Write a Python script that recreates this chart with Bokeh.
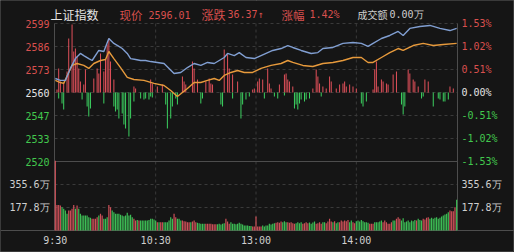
from bokeh.plotting import figure
from bokeh.models import Range1d, ColumnDataSource
from bokeh.core.properties import value
from bokeh.embed import file_html
from bokeh.resources import INLINE

# ---------------- data ----------------
index_name = "上证指数"
prev_close = 2559.64
last_price = "2596.01"
change = "36.37↑"
change_pct = "1.42%"
turnover = "0.00万"

# minutes since 9:30 (0..240, lunch removed)
price_t = [0, 3, 6, 9, 12, 15, 17, 20, 22, 26, 29, 32, 35, 38, 40, 43, 45, 48, 51, 54,
           57, 61, 65, 68, 71, 75, 79, 83, 87, 91, 95, 98, 101, 103, 107, 110, 114, 119,
           123, 127, 130, 135, 139, 142, 147, 153, 157, 160, 166, 172, 178, 183, 187, 190,
           195, 200, 205, 208, 212, 218, 224, 230, 236, 240]
price_v = [2567.6, 2566.5, 2566.5, 2573.3, 2578.9, 2581.8, 2580.6, 2578.9, 2577.8, 2583.5,
           2582.9, 2590.3, 2587.5, 2585.8, 2584.6, 2581.8, 2578.9, 2578.4, 2577.8, 2577.8,
           2577.2, 2576.7, 2576.1, 2573.3, 2570.4, 2571.0, 2573.8, 2576.1, 2575.0, 2576.7,
           2576.1, 2577.8, 2579.5, 2581.8, 2580.6, 2582.3, 2579.5, 2578.9, 2580.6, 2582.3,
           2583.5, 2584.6, 2586.3, 2585.2, 2583.5, 2581.8, 2582.3, 2584.6, 2585.2, 2587.5,
           2588.0, 2587.5, 2585.8, 2587.5, 2590.3, 2592.0, 2594.3, 2592.0, 2596.0, 2597.1,
           2597.7, 2596.0, 2594.8, 2596.0]

avg_t = [0, 3, 5, 8, 10, 13, 17, 20, 23, 27, 30, 32, 35, 39, 43, 47, 53, 59, 65, 69,
         73, 76, 79, 83, 87, 91, 95, 98, 101, 105, 109, 113, 118, 123, 129, 135, 139, 142,
         148, 154, 160, 166, 172, 178, 183, 187, 190, 195, 200, 205, 208, 214, 220, 226,
         232, 240]
avg_v = [2566.5, 2565.3, 2564.8, 2571.0, 2575.0, 2576.1, 2575.0, 2573.3, 2576.1, 2577.8,
         2578.4, 2582.9, 2578.9, 2573.8, 2568.2, 2567.0, 2566.5, 2564.8, 2563.6, 2560.8,
         2557.4, 2559.6, 2561.9, 2565.3, 2565.3, 2566.5, 2567.6, 2566.5, 2569.3, 2571.0,
         2572.1, 2571.0, 2571.0, 2573.3, 2575.0, 2576.1, 2577.8, 2576.7, 2575.0, 2574.4,
         2576.1, 2576.7, 2577.8, 2579.5, 2579.5, 2576.7, 2576.7, 2579.5, 2582.3, 2584.6,
         2583.5, 2586.3, 2587.5, 2586.3, 2586.9, 2587.5]

# buying / selling strength bars (arbitrary units)
buy_t = [1, 2, 3, 5, 7, 8, 10, 11, 12, 13, 14, 15, 17, 18, 23, 25, 26, 27, 29, 30,
         31, 32, 33, 35, 47, 48, 57, 58, 61, 64, 76, 77, 78, 82, 83, 85, 90, 92, 93, 94,
         101, 103, 104, 106, 109, 118, 119, 121, 122, 124, 127, 128, 129, 134, 137, 138,
         139, 140, 142, 154, 156, 157, 158, 160, 162, 164, 165, 168, 170, 172, 173, 174,
         176, 178, 180, 190, 191, 192, 193, 195, 196, 198, 199, 202, 204, 211, 212, 214,
         215, 217, 221, 223, 236, 238]
buy_v = [3, 24, 11, 9, 21, 54, 68, 41, 44, 36, 24, 11, 8, 23, 14, 24, 19, 39, 21, 33,
         48, 54, 31, 13, 6, 4, 13, 9, 6, 8, 16, 11, 8, 31, 24, 13, 11, 14, 9, 8,
         43, 38, 24, 18, 11, 3, 4, 11, 14, 13, 24, 9, 4, 8, 18, 19,
         13, 11, 6, 4, 23, 16, 9, 6, 4, 16, 11, 4, 8, 9, 11, 6,
         8, 6, 4, 3, 23, 31, 6, 13, 11, 9, 8, 18, 21, 23, 19, 13,
         11, 6, 13, 11, 6, 4]
sell_t = [2, 4, 5, 16, 19, 20, 21, 29, 35, 36, 37, 38, 40, 41, 42, 44, 45, 47, 51, 53,
          54, 56, 57, 58, 66, 67, 69, 70, 72, 73, 87, 88, 99, 100, 106, 111, 112, 114, 116,
          125, 131, 133, 137, 143, 144, 145, 146, 147, 149, 150, 152, 159, 183, 184, 186,
          207, 208, 209, 219, 220, 226, 229, 230, 232, 233, 235]
sell_v = [6, 11, 17, 7, 14, 24, 16, 11, 14, 19, 17, 26, 21, 32, 36, 44, 26, 9, 6, 7,
          6, 7, 4, 5, 12, 36, 26, 14, 6, 12, 11, 6, 12, 14, 6, 26, 12, 7, 4,
          6, 4, 6, 3, 16, 12, 17, 11, 7, 9, 7, 6, 4, 11, 14, 9,
          12, 22, 14, 6, 4, 14, 6, 7, 9, 9, 7]

# volume (万), minutes 0..120 and 121..240, R = up bar, G = down bar
vol_am = [540, 198, 198, 193, 180, 168, 155, 129, 155, 155,
          168, 198, 168, 193, 168, 129, 116, 116, 116, 116,
          103, 98, 90, 90, 90, 103, 116, 129, 116, 90,
          90, 103, 198, 180, 155, 142, 129, 129, 129, 121,
          116, 111, 116, 137, 116, 121, 103, 90, 77, 82,
          77, 77, 77, 77, 77, 77, 82, 90, 90, 85,
          77, 64, 64, 64, 64, 64, 64, 64, 77, 103,
          90, 129, 103, 90, 90, 77, 77, 72, 70, 64,
          64, 64, 70, 77, 64, 59, 57, 52, 52, 52,
          52, 52, 52, 52, 49, 49, 49, 49, 52, 46,
          52, 57, 90, 70, 52, 64, 52, 52, 49, 52,
          59, 52, 46, 39, 39, 39, 34, 34, 31, 31,
          108]
vol_am_dir = ("RRRRGGGGRR" "RRGRGGGGGG" "GGRRRRGRRG" "GGRRGGGGGG" "GGGGGGGRRG"
              "RGGGGGGGGG" "GRGRRGGGGG" "GRRGGGRRRR" "RGRRRGGGGG" "RRRRRRRGGG"
              "GGRRRGGGGG" "GGGGGGGGRR" "R")
vol_pm = [31, 31, 31, 39, 31, 39, 39, 52, 46, 52,
          57, 59, 64, 59, 70, 64, 72, 64, 64, 59,
          64, 57, 52, 57, 64, 57, 64, 52, 57, 64,
          57, 62, 52, 62, 70, 52, 57, 64, 52, 64,
          64, 57, 70, 90, 70, 64, 72, 57, 64, 64,
          77, 70, 77, 72, 82, 64, 77, 64, 57, 72,
          77, 70, 82, 72, 64, 64, 59, 52, 52, 52, 64,
          64, 64, 70, 77, 64, 77, 64, 52, 52, 64,
          77, 77, 90, 103, 90, 77, 95, 64, 70, 77,
          64, 77, 72, 82, 77, 90, 82, 77, 90, 85,
          98, 103, 90, 98, 90, 98, 103, 90, 98, 108,
          116, 124, 129, 142, 155, 149, 149, 180, 237]
vol_pm_dir = ("RRRGGGGGGG" "GRRRRGGGRR" "RRRGGGGRRR" "RGGGGRRRRG" "GRRRRGRGGR"
              "RRRRRGGRRG" "GGGGGGGRRRG" "GGGGRRRRRR" "GGRRRGGGGG" "GGGGRGGGRR"
              "RRGGGGGGGG" "GGGGRRRRG")

price_tick_labels = ["2599", "2586", "2573", "2560", "2547", "2533", "2520"]
pct_tick_labels = ["1.53%", "1.02%", "0.51%", "0.00%", "-0.51%", "-1.02%", "-1.53%"]
tick_steps = [3, 2, 1, 0, -1, -2, -3]
vol_ticks = [355.6, 177.8]
vol_tick_labels = ["355.6万", "177.8万"]
time_ticks = [0, 60, 120, 180]
time_labels = ["9:30", "10:30", "13:00", "14:00"]

# ---------------- style / layout ----------------
BG = "#151515"
GRID = "#3a3a3a"
FRAME = "#4d4d4d"
RED_T = "#d9504e"
GREEN_T = "#42c84e"
WHITE_T = "#e4e4e4"
GRAY_T = "#cfcfcf"
BLUE = "#819fd2"
ORANGE = "#e79a3c"
RED_B = "#e0505a"
GREEN_B = "#3cd060"
RED_V = "#cc5058"
GREEN_V = "#3dbd55"
MONO = "DejaVu Sans Mono"
CJK = "Noto Sans CJK SC"

W, H = 514, 252
FL, FR, FT, FB = 54, 457, 23, 230     # chart area edges in pixels
ROW = 23.0                              # pixels per grid row
x_lo, x_hi = -0.5, 240.5
ppm = (FR - FL) / (x_hi - x_lo)

step = prev_close * 0.0051
price_hi = prev_close + 3 * step
pw = 23.0
vol_step = vol_ticks[1]


def px_to_x(px):
    return x_lo + (px - FL) / ppm


def py_price(py):
    return price_hi - (py - FT) * step / ROW


def py_pwr(py):
    return 3 * pw - (py - FT) * pw / ROW


def py_vol(py):
    return (FB - py) * vol_step / ROW


p = figure(width=W, height=H, output_backend="svg", toolbar_location=None,
           x_range=Range1d(px_to_x(0), px_to_x(W)),
           y_range=Range1d(py_price(H), py_price(0)),
           min_border=0, x_axis_location=None, y_axis_location=None,
           background_fill_color=BG, border_fill_color=BG)
p.center = []
p.outline_line_color = "#3a3a3a"
p.extra_y_ranges = {"pwr": Range1d(py_pwr(H), py_pwr(0)),
                    "vol": Range1d(py_vol(H), py_vol(0))}

price_ticks = [prev_close + k * step for k in tick_steps]
y_top, y_sep = price_ticks[0], price_ticks[-1]

# dashed grid
p.segment(x0=x_lo, x1=x_hi, y0=price_ticks[:-1], y1=price_ticks[:-1],
          line_color=GRID, line_dash="3 3", line_width=1)
p.segment(x0=x_lo, x1=x_hi, y0=vol_ticks, y1=vol_ticks, y_range_name="vol",
          line_color=GRID, line_dash="3 3", line_width=1)
p.segment(x0=time_ticks[1:], x1=time_ticks[1:], y0=y_top, y1=py_price(FB),
          line_color=GRID, line_dash="3 3", line_width=1)
# frame lines
p.segment(x0=[x_lo, x_hi], x1=[x_lo, x_hi], y0=y_top, y1=py_price(FB),
          line_color=FRAME, line_width=1)
p.segment(x0=x_lo, x1=x_hi, y0=y_sep, y1=y_sep, line_color=FRAME, line_width=1)
p.segment(x0=px_to_x(0), x1=px_to_x(W), y0=0, y1=0, y_range_name="vol",
          line_color=FRAME, line_width=1)

# strength bars
p.vbar(x=buy_t, bottom=0, top=buy_v, width=0.6, y_range_name="pwr",
       fill_color=RED_B, line_color=None)
p.vbar(x=sell_t, bottom=0, top=[-v for v in sell_v], width=0.6, y_range_name="pwr",
       fill_color=GREEN_B, line_color=None)

# volume
vol = vol_am + vol_pm
vdir = vol_am_dir + vol_pm_dir
vt = list(range(len(vol)))
vcol = [RED_V if d == "R" else GREEN_V for d in vdir]
p.vbar(x=vt, bottom=0, top=vol, width=0.72, y_range_name="vol",
       fill_color=vcol, line_color=None)

# price lines
p.line(avg_t, avg_v, line_color=ORANGE, line_width=1.4)
p.line(price_t, price_v, line_color=BLUE, line_width=1.4)


# tick labels
def sign_color(k):
    return RED_T if k > 0 else (WHITE_T if k == 0 else GREEN_T)


cols = [sign_color(k) for k in tick_steps]
left_src = ColumnDataSource(dict(x=[px_to_x(FL - 5)] * 7, y=price_ticks,
                                 text=price_tick_labels, c=cols))
right_src = ColumnDataSource(dict(x=[px_to_x(FR + 4)] * 7, y=price_ticks,
                                  text=pct_tick_labels, c=cols))
for src, align in ((left_src, "right"), (right_src, "left")):
    p.text(x="x", y="y", text="text", source=src, text_color="c",
           text_align=value(align), text_baseline=value("middle"),
           text_font=value(MONO), text_font_size=value("10px"))
for xx, align in ((px_to_x(FL - 5), "right"), (px_to_x(FR + 4), "left")):
    p.text(x=[xx] * 2, y=vol_ticks, text=vol_tick_labels, y_range_name="vol",
           text_color=GRAY_T, text_align=value(align), text_baseline=value("middle"),
           text_font=value(MONO), text_font_size=value("10px"))

# time labels
p.text(x=time_ticks, y=[py_vol(FB + 10)] * len(time_ticks), text=time_labels,
       y_range_name="vol", text_color=GRAY_T, text_align=value("center"),
       text_baseline=value("middle"), text_font=value(MONO),
       text_font_size=value("10px"))

# title row: index name right-aligned to its right edge, the rest left-aligned
p.text(x=[px_to_x(98)], y=[py_price(14)], text=[index_name], text_color=WHITE_T,
       text_font=value(CJK), text_font_size=value("12px"),
       text_align=value("right"), text_baseline=value("middle"))
title_text = ["现价", last_price, "涨跌", change, "涨幅", change_pct, "成交额", turnover]
title_px = [119, 148, 201, 227, 281, 309, 357, 389]
title_col = [RED_T, RED_T, RED_T, RED_T, RED_T, RED_T, GRAY_T, GRAY_T]
title_font = [CJK, MONO, CJK, MONO, CJK, MONO, CJK, MONO]
title_size = ["11.5px", "10px", "12px", "10px", "11.5px", "10px", "10px", "10px"]
tsrc = ColumnDataSource(dict(x=[px_to_x(v) for v in title_px],
                             y=[py_price(14)] * len(title_text), text=title_text,
                             c=title_col, f=title_font, s=title_size))
p.text(x="x", y="y", text="text", source=tsrc, text_color="c", text_font="f",
       text_font_size="s", text_align=value("left"), text_baseline=value("middle"))

open("out.html", "w").write(file_html(p, INLINE))
